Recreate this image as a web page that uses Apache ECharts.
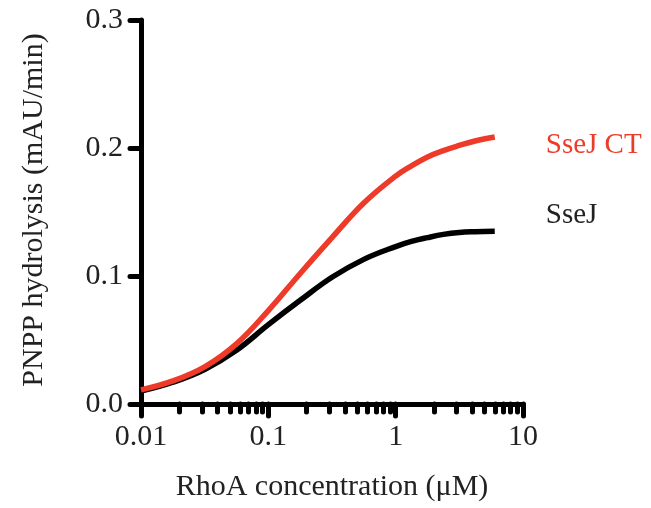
<!DOCTYPE html>
<html>
<head>
<meta charset="utf-8">
<script src="https://cdn.jsdelivr.net/npm/echarts@6/dist/echarts.min.js"></script>
<style>html,body{margin:0;padding:0;background:#fff;}#c{width:651px;height:508px;}</style>
</head>
<body>
<div id="c"></div>
<script>
const concentrations = [0.01, 0.0178, 0.0316, 0.0562, 0.1, 0.178, 0.316, 0.562, 1, 1.33, 1.78, 2.37, 3.16, 4.2, 6];
const sseJCT = [0.011, 0.018, 0.029, 0.047, 0.073, 0.102, 0.130, 0.157, 0.178, 0.186, 0.193, 0.198, 0.202, 0.2055, 0.2086];
const sseJ   = [0.010, 0.017, 0.027, 0.042, 0.062, 0.081, 0.099, 0.113, 0.123, 0.127, 0.130, 0.1325, 0.134, 0.1346, 0.135];
const majorTicks = [0.01, 0.1, 1, 10];
const minorTicks = [0.02,0.03,0.04,0.05,0.06,0.07,0.08,0.09,0.2,0.3,0.4,0.5,0.6,0.7,0.8,0.9,2,3,4,5,6,7,8,9];
const yTicks = [0, 0.1, 0.2, 0.3];
const seriesNames = ['SseJ CT', 'SseJ'];
const xTitle = 'RhoA concentration (\u03bcM)';
const yTitle = 'PNPP hydrolysis (mAU/min)';

const font = 'Liberation Serif, Times New Roman, serif';
const fs = 30;
const chart = echarts.init(document.getElementById('c'));
chart.setOption({
  animation: false,
  grid: {left: 141, right: 128, top: 20, bottom: 104},
  xAxis: [{
    type: 'log', logBase: 10, min: 0.01, max: 10,
    axisLine: {lineStyle: {color: '#000', width: 5}},
    axisTick: {length: 12, customValues: majorTicks, lineStyle: {color: '#000', width: 5, cap: 'round'}},
    axisLabel: {customValues: majorTicks, margin: 18, color: '#222', fontFamily: font, fontSize: fs,
      formatter: v => String(v)},
    splitLine: {show: false},
    name: xTitle, nameLocation: 'middle', nameGap: 68,
    nameTextStyle: {fontFamily: font, fontSize: fs, color: '#222'}
  }, {
    type: 'log', logBase: 10, min: 0.01, max: 10, position: 'bottom',
    axisLine: {show: false},
    axisTick: {length: 8, customValues: minorTicks, lineStyle: {color: '#000', width: 5, cap: 'round'}},
    axisLabel: {show: false},
    splitLine: {show: false}
  }],
  yAxis: {
    type: 'value', min: 0, max: 0.3, interval: 0.1,
    axisLine: {show: true, lineStyle: {color: '#000', width: 5}},
    axisTick: {show: true, length: 11, customValues: yTicks, lineStyle: {color: '#000', width: 5, cap: 'round'}},
    axisLabel: {margin: 18, customValues: yTicks, color: '#222', fontFamily: font, fontSize: fs, formatter: v => v.toFixed(1)},
    splitLine: {show: false}
  },
  graphic: [{
    type: 'text', x: 34, y: 210, rotation: Math.PI / 2,
    style: {text: yTitle, fontFamily: font, fontSize: fs, fill: '#222', align: 'center', verticalAlign: 'middle'}
  }],
  series: [{
    name: seriesNames[0], type: 'line', smooth: 0.4, symbol: 'none',
    data: concentrations.map((x, i) => [x, sseJCT[i]]),
    lineStyle: {color: '#ee3a28', width: 5.5},
    endLabel: {show: true, formatter: seriesNames[0], color: '#ee3a28', fontFamily: font, fontSize: 29, offset: [43, 8]},
    z: 3
  }, {
    name: seriesNames[1], type: 'line', smooth: 0.4, symbol: 'none',
    data: concentrations.map((x, i) => [x, sseJ[i]]),
    lineStyle: {color: '#000', width: 5.5},
    endLabel: {show: true, formatter: seriesNames[1], color: '#222', fontFamily: font, fontSize: 29, offset: [43, -16]},
    z: 2
  }]
});
</script>
</body>
</html>
